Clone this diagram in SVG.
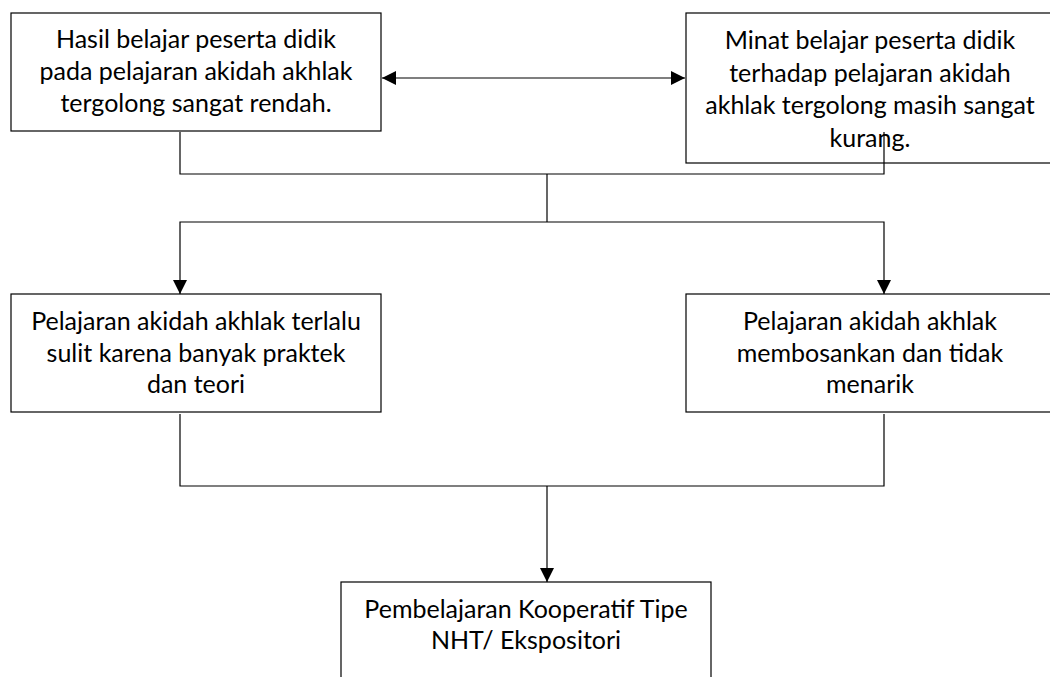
<svg xmlns="http://www.w3.org/2000/svg" width="1050" height="677" viewBox="0 0 1050 677">
<defs>
<style>
.box{fill:#fff;stroke:#000;stroke-width:1.2}
.t{font-family:Lato,"Liberation Sans",sans-serif;font-size:25px;fill:#000;text-anchor:middle}
.c{fill:none;stroke:#000;stroke-width:1.2}
</style>
<marker id="ah" markerWidth="14" markerHeight="14" viewBox="0 0 14 14" refX="14" refY="7" orient="auto" markerUnits="userSpaceOnUse">
<path d="M0,0 L14,7 L0,14 Z" fill="#000"/>
</marker>
<marker id="ahs" markerWidth="14" markerHeight="14" viewBox="0 0 14 14" refX="0" refY="7" orient="auto" markerUnits="userSpaceOnUse">
<path d="M14,0 L0,7 L14,14 Z" fill="#000"/>
</marker>
</defs>
<rect width="1050" height="677" fill="#fff"/>
<g id="n1">
<rect class="box" x="11" y="13" width="370" height="118"/>
<text class="t" x="196" y="48">Hasil belajar peserta didik</text>
<text class="t" x="196" y="80">pada pelajaran akidah akhlak</text>
<text class="t" x="196" y="112">tergolong sangat rendah.</text>
</g>
<g id="n2">
<rect class="box" x="686" y="13" width="370" height="150"/>
<text class="t" x="870" y="49">Minat belajar peserta didik</text>
<text class="t" x="870" y="82">terhadap pelajaran akidah</text>
<text class="t" x="870" y="114">akhlak tergolong masih sangat</text>
<text class="t" x="870" y="147">kurang.</text>
</g>
<g id="n3">
<rect class="box" x="11" y="294" width="370" height="118"/>
<text class="t" x="196" y="330">Pelajaran akidah akhlak terlalu</text>
<text class="t" x="196" y="362">sulit karena banyak praktek</text>
<text class="t" x="196" y="393">dan teori</text>
</g>
<g id="n4">
<rect class="box" x="686" y="294" width="370" height="118"/>
<text class="t" x="870" y="330">Pelajaran akidah akhlak</text>
<text class="t" x="870" y="362">membosankan dan tidak</text>
<text class="t" x="870" y="393">menarik</text>
</g>
<g id="n5">
<rect class="box" x="341" y="582" width="370" height="120"/>
<text class="t" x="526" y="618">Pembelajaran Kooperatif Tipe</text>
<text class="t" x="526" y="649">NHT/ Ekspositori</text>
</g>
<g id="connectors">
<line class="c" x1="382" y1="78" x2="685" y2="78" marker-start="url(#ahs)" marker-end="url(#ah)"/>
<polyline class="c" points="180,132 180,174 884,174 884,132"/>
<line class="c" x1="547" y1="174" x2="547" y2="222"/>
<polyline class="c" points="180,294 180,222 884,222 884,294" marker-start="url(#ahs)" marker-end="url(#ah)"/>
<polyline class="c" points="180,414 180,486 884,486 884,414"/>
<line class="c" x1="547" y1="486" x2="547" y2="582" marker-end="url(#ah)"/>
</g>
</svg>
